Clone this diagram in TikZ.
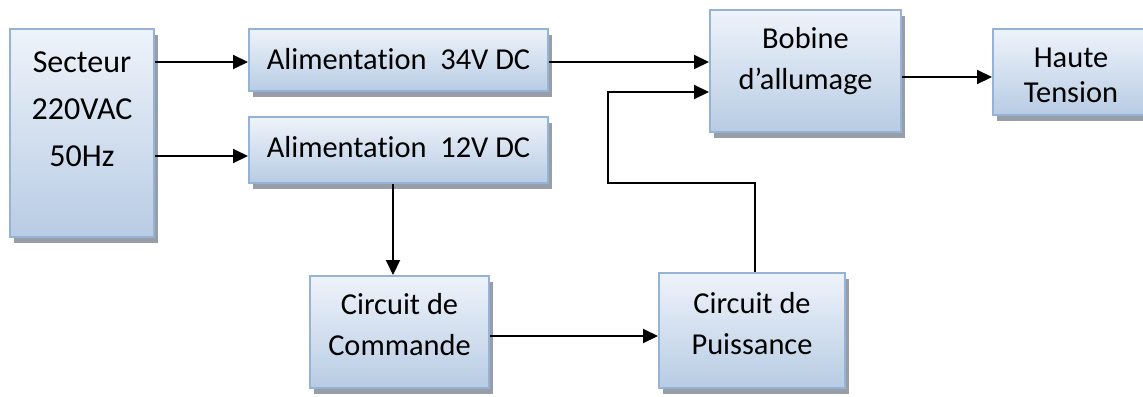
\documentclass[tikz,border=0pt]{standalone}
\usepackage{fontspec}
\setmainfont{Carlito}[Ligatures={NoCommon}]
\usepackage{tikz}
\usetikzlibrary{positioning,shadows,arrows.meta}

\definecolor{boxTop}{RGB}{238,243,250}
\definecolor{boxBottom}{RGB}{184,204,228}
\definecolor{boxLine}{RGB}{149,179,215}
\definecolor{shadowGrey}{RGB}{152,158,168}

\newcommand{\firstLine}{\rule{0pt}{12pt}}

\begin{document}
\begin{tikzpicture}[x=0.5pt, y=-0.5pt, line width=1pt]

		% 1単位 = 1px (y は下向き)
		\useasboundingbox (0,0) rectangle (1143,396);
		\tikzset{
			styleBox/.style={
				draw=boxLine, top color=boxTop, bottom color=boxBottom,
				inner sep=0pt,
				general shadow={fill=shadowGrey, shadow xshift=2pt, shadow yshift=-3pt}
			},		% 枠と影
			styleText/.style={
				align=center, inner sep=0pt,
				font=\fontsize{15.2}{20.5}\selectfont
			},
			styleTextTight/.style={
				styleText, font=\fontsize{15.2}{17.5}\selectfont
			},
			styleTextBig/.style={
				styleText, font=\fontsize{16}{23.5}\selectfont
			},
			arr/.style={-{Triangle[length=7.5pt, width=7pt]}, line width=1pt}
		};

		%ループで箱を置く (中心 x/y は px, 幅/高さは pt)
		\foreach 
			\boxName/\cx/\cy/\w/\h in { 
				sect/82/133/72/104,
				alim34/398.5/60/149.5/31,
				alim12/398.5/150/149.5/33,
				bobine/805.5/71/95.5/61,
				haute/1071/72/78/43,
				commande/399.5/332/89.5/56,
				puissance/752/330.5/93/57.5 } {
			\path (\cx,\cy) node [
					styleBox, minimum width=\w pt, minimum height=\h pt
				] (\boxName) {};	%箱に名前をつける
		}

		%箱の上端から文字を書く
		\node [styleTextBig, below=9.5pt of sect.north] (sectText)
			{\firstLine Secteur\\220VAC\\50Hz};
		\node [styleText, below=8pt of alim34.north] (alim34Text)
			{\firstLine Alimentation~~34V DC};
		\node [styleText, below=8pt of alim12.north] (alim12Text)
			{\firstLine Alimentation~~12V DC};
		\node [styleText, below=7pt of bobine.north] (bobineText)
			{\firstLine Bobine\\d’allumage};
		\node [styleTextTight, below=7.25pt of haute.north] (hauteText)
			{\firstLine Haute\\Tension};
		\node [styleText, below=7pt of commande.north] (commandeText)
			{\firstLine Circuit de\\Commande};
		\node [styleText, below=8pt of puissance.north] (puissanceText)
			{\firstLine Circuit de\\Puissance};

		%ループで横の矢印を書く (y は px)
		\foreach \startBox/\endBox/\y in 
			{sect/alim34/62, sect/alim12/156, alim34/bobine/62,
			 bobine/haute/77, commande/puissance/336} {
			\draw[arr] (\startBox.east |- 0,\y) -- (\endBox.west |- 0,\y);
		}

		%縦の矢印
		\draw[arr] (alim12.south -| 393,0) -- (commande.north -| 393,0);

		%帰還の線
		\coordinate (turn) at (608,183);
		\draw[arr] (puissance.north -| 755,0) |- (turn) |- (bobine.west |- 0,92);

	\end{tikzpicture}
\end{document}
